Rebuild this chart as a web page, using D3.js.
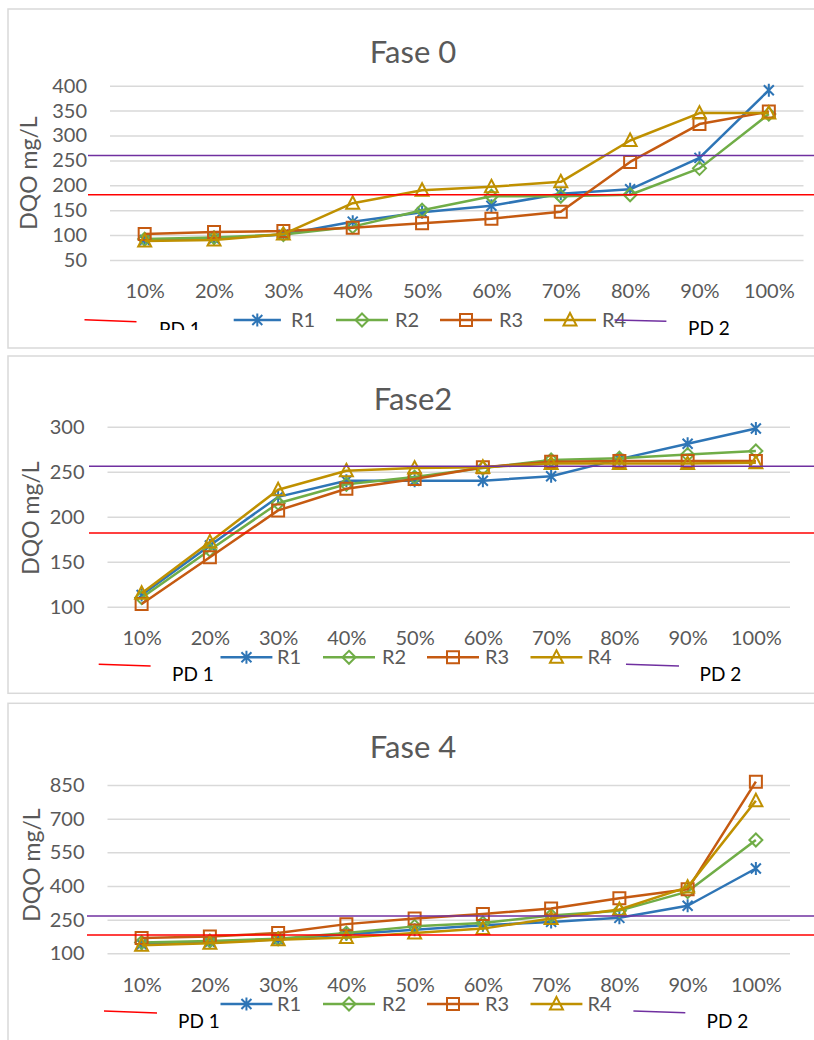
<!DOCTYPE html>
<html>
<head>
<meta charset="utf-8">
<script src="https://cdn.jsdelivr.net/npm/d3@7"></script>
<style>
  body { margin: 0; background: #fff; }
  svg { display: block; font-family: Lato, "Open Sans", sans-serif; }
</style>
</head>
<body>
<svg id="chart" width="814" height="1040"></svg>
<script>
// ---- data ----
const categories = ['10%', '20%', '30%', '40%', '50%', '60%', '70%', '80%', '90%', '100%'];
const seriesNames = ['R1', 'R2', 'R3', 'R4'];
const panelTitles = ['Fase 0', 'Fase2', 'Fase 4'];

// Fase 0
const fase0R1 = [90, 93, 101, 127, 146, 159, 183, 192, 255, 391];
const fase0R2 = [92, 95, 101, 117, 150, 178, 178, 181, 234, 343];
const fase0R3 = [102, 106, 108, 115, 124, 133, 147, 247, 323, 348];
const fase0R4 = [88, 90, 102, 164, 190, 197, 207, 290, 345, 345];
const fase0Ticks = [50, 100, 150, 200, 250, 300, 350, 400];

// Fase2
const fase2R1 = [113, 168, 222, 240, 240, 240, 245, 264, 281, 298];
const fase2R2 = [110, 163, 215, 236, 244, 254, 263, 265, 269, 273];
const fase2R3 = [103, 155, 207, 231, 242, 255, 261, 262, 262, 262];
const fase2R4 = [115, 172, 230, 251, 254, 255, 259, 259, 259, 260];
const fase2Ticks = [100, 150, 200, 250, 300];

// Fase 4
const fase4R1 = [140, 150, 162, 185, 205, 225, 240, 258, 312, 478];
const fase4R2 = [148, 155, 165, 190, 220, 235, 268, 290, 375, 605];
const fase4R3 = [168, 175, 190, 230, 255, 275, 300, 345, 385, 865];
const fase4R4 = [136, 145, 160, 170, 190, 210, 255, 295, 395, 780];
const fase4Ticks = [100, 250, 400, 550, 700, 850];

// reference lines PD 1 / PD 2 (one value per panel)
const pd1Values = [181, 182, 181];
const pd2Values = [260, 256, 266];

// ---- styles ----
const seriesColors = ['#2e75b6', '#70ad47', '#c55a11', '#bf9000'];
const seriesMarkers = ['star', 'diamond', 'square', 'triangle'];
const textGrey = '#595959';
const gridGrey = '#d9d9d9';

const svg = d3.select('#chart');

// marker shapes like the Excel ones
function markerPath(type) {
    if (type === 'star') return 'M0,-6.5L0,6.5M-5,-5L5,5M-5,5L5,-5';
    if (type === 'diamond') return 'M0,-6.5L6.5,0L0,6.5L-6.5,0Z';
    if (type === 'square') return 'M-6,-6H6V6H-6Z';
    return 'M0,-7L6.5,5.5L-6.5,5.5Z';
}

// layout of each panel (pixel positions)
const panels = [
    {
        title: panelTitles[0], series: [fase0R1, fase0R2, fase0R3, fase0R4], ticks: fase0Ticks,
        frame: {y0: 9, y1: 348}, titleY: 63, yDomain: [50, 400], yRange: [260, 85.7],
        xRange: [110, 803.5], xLabelY: 298, yTitle: {x: 37, y: 173},
        pdX0: 88,
        legend: {
            rowY: 320, lines: [[233.7, 280.9], [336, 388], [440, 492], [544, 596]], texts: [291, 395, 499, 602],
            pd1: {line: [84.5, 319.7, 136.5, 321.7], text: [159, 336], clip: [300, 330]},
            pd2: {line: [614.5, 320, 666.4, 321.2], text: [688, 335]}
        }
    },
    {
        title: panelTitles[1], series: [fase2R1, fase2R2, fase2R3, fase2R4], ticks: fase2Ticks,
        frame: {y0: 356, y1: 693.3}, titleY: 410, yDomain: [100, 300], yRange: [606.7, 426.7],
        xRange: [107.5, 790], xLabelY: 645, yTitle: {x: 39, y: 518},
        pdX0: 89,
        legend: {
            rowY: 657.3, lines: [[220.5, 272.4], [323, 375], [427, 479], [530.5, 582.4]], texts: [277, 382, 485, 587.6],
            pd1: {line: [98.7, 664.3, 150.6, 666], text: [172, 681]},
            pd2: {line: [626, 664.3, 679, 666], text: [699.5, 681]}
        }
    },
    {
        title: panelTitles[2], series: [fase4R1, fase4R2, fase4R3, fase4R4], ticks: fase4Ticks,
        frame: {y0: 703.3, y1: 1050}, titleY: 757.7, yDomain: [100, 850], yRange: [953.3, 785],
        xRange: [107.5, 790], xLabelY: 991.7, yTitle: {x: 40, y: 865},
        pdX0: 87,
        legend: {
            rowY: 1004, lines: [[220.5, 272.4], [323, 375], [427, 479], [530.5, 582.4]], texts: [277, 382, 485, 587.6],
            pd1: {line: [104, 1011, 157, 1013], text: [178, 1028]},
            pd2: {line: [633.4, 1011, 685.3, 1012.7], text: [706.5, 1028]}
        }
    }
];

panels.forEach((p, i) => {
    const g = svg.append('g');

    // frame of the chart box
    g.append('rect')
        .attr('x', 8).attr('y', p.frame.y0)
        .attr('width', 830).attr('height', p.frame.y1 - p.frame.y0)
        .attr('fill', 'none').attr('stroke', gridGrey).attr('stroke-width', 1.5);

    const xScale = d3.scalePoint().domain(categories).range(p.xRange).padding(0.5);
    const yScale = d3.scaleLinear().domain(p.yDomain).range(p.yRange);

    // gridlines + y labels
    const yAxis = d3.axisLeft(yScale).tickValues(p.ticks).tickSize(-(p.xRange[1] - p.xRange[0])).tickPadding(23);
    const gY = g.append('g')
        .attr('transform', 'translate(' + p.xRange[0] + ',0)')
        .call(yAxis);
    gY.select('.domain').remove();
    gY.selectAll('.tick line').attr('stroke', gridGrey).attr('stroke-width', 1.5);
    gY.selectAll('.tick text')
        .attr('fill', textGrey).attr('font-size', 20).attr('font-family', 'Lato');

    // x labels
    const xAxis = d3.axisBottom(xScale).tickSize(0).tickPadding(0);
    const gX = g.append('g')
        .attr('transform', 'translate(0,' + p.xLabelY + ')')
        .call(xAxis);
    gX.select('.domain').remove();
    gX.selectAll('.tick text')
        .attr('fill', textGrey).attr('font-size', 20).attr('font-family', 'Lato')
        .attr('dy', 0).attr('y', 0);

    // title
    g.append('text')
        .attr('x', 413).attr('y', p.titleY)
        .attr('text-anchor', 'middle')
        .attr('fill', textGrey).attr('font-size', 31)
        .text(p.title);

    // y axis title
    g.append('text')
        .attr('transform', 'translate(' + p.yTitle.x + ',' + p.yTitle.y + ') rotate(-90)')
        .attr('text-anchor', 'middle')
        .attr('fill', textGrey).attr('font-size', 23)
        .text('DQO mg/L');

    // series lines and markers
    const line = d3.line()
        .x((d, k) => xScale(categories[k]))
        .y(d => yScale(d));

    p.series.forEach((values, s) => {
        g.append('path')
            .datum(values)
            .attr('d', line)
            .attr('fill', 'none')
            .attr('stroke', seriesColors[s])
            .attr('stroke-width', 2.5)
            .attr('stroke-linejoin', 'round');

        g.selectAll('.m' + s)
            .data(values)
            .enter()
            .append('path')
            .attr('class', 'm' + s)
            .attr('transform', (d, k) => 'translate(' + xScale(categories[k]) + ',' + yScale(d) + ')')
            .attr('d', markerPath(seriesMarkers[s]))
            .attr('fill', 'none')
            .attr('stroke', seriesColors[s])
            .attr('stroke-width', 2);
    });

    // PD reference lines
    g.append('line')
        .attr('x1', p.pdX0).attr('x2', 814)
        .attr('y1', yScale(pd1Values[i])).attr('y2', yScale(pd1Values[i]))
        .attr('stroke', '#ff0000').attr('stroke-width', 1.5);
    g.append('line')
        .attr('x1', p.pdX0).attr('x2', 814)
        .attr('y1', yScale(pd2Values[i])).attr('y2', yScale(pd2Values[i]))
        .attr('stroke', '#7030a0').attr('stroke-width', 1.5);

    // legend: series entries
    const lg = p.legend;
    seriesNames.forEach((name, s) => {
        const [lx0, lx1] = lg.lines[s];
        g.append('line')
            .attr('x1', lx0).attr('x2', lx1)
            .attr('y1', lg.rowY).attr('y2', lg.rowY)
            .attr('stroke', seriesColors[s]).attr('stroke-width', 2.5);
        g.append('path')
            .attr('transform', 'translate(' + ((lx0 + lx1) / 2) + ',' + lg.rowY + ')')
            .attr('d', markerPath(seriesMarkers[s]))
            .attr('fill', 'none').attr('stroke', seriesColors[s]).attr('stroke-width', 2);
        g.append('text')
            .attr('x', lg.texts[s]).attr('y', lg.rowY)
            .attr('dy', '0.35em')
            .attr('fill', textGrey).attr('font-size', 20)
            .text(name);
    });

    // legend: PD 1 / PD 2 drawn shapes
    [['PD 1', lg.pd1, '#ff0000'], ['PD 2', lg.pd2, '#7030a0']].forEach(([label, cfg, col]) => {
        g.append('line')
            .attr('x1', cfg.line[0]).attr('y1', cfg.line[1])
            .attr('x2', cfg.line[2]).attr('y2', cfg.line[3])
            .attr('stroke', col).attr('stroke-width', 1.5);
        const t = g.append('text')
            .attr('x', cfg.text[0]).attr('y', cfg.text[1])
            .attr('fill', '#000').attr('font-size', 19)
            .text(label);
        if (cfg.clip) {
            const id = 'clip' + i;
            svg.append('defs').append('clipPath').attr('id', id)
                .append('rect')
                .attr('x', 0).attr('y', cfg.clip[0])
                .attr('width', 814).attr('height', cfg.clip[1] - cfg.clip[0]);
            t.attr('clip-path', 'url(#' + id + ')');
        }
    });
});
</script>
</body>
</html>
